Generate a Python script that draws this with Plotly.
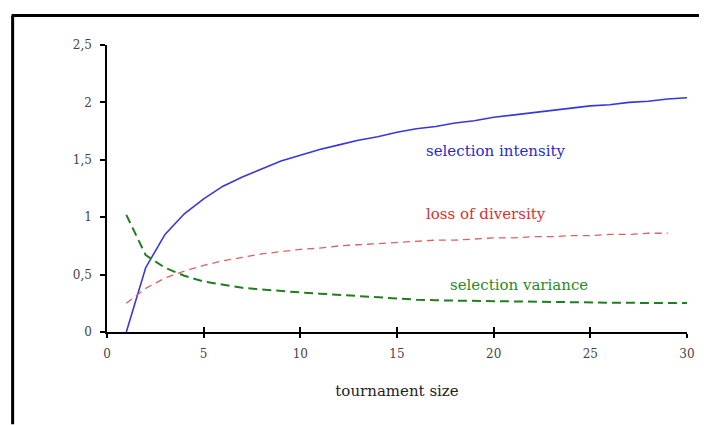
import plotly.graph_objects as go

# ---- data ----
size_intensity = list(range(1, 31))
selection_intensity = [0.00, 0.56, 0.85, 1.03, 1.16, 1.27, 1.35, 1.42, 1.49, 1.54,
                       1.59, 1.63, 1.67, 1.70, 1.74, 1.77, 1.79, 1.82, 1.84, 1.87,
                       1.89, 1.91, 1.93, 1.95, 1.97, 1.98, 2.00, 2.01, 2.03, 2.04]

size_diversity = list(range(1, 30))
loss_of_diversity = [0.25, 0.38, 0.47, 0.53, 0.58, 0.62, 0.65, 0.68, 0.70, 0.72,
                     0.73, 0.75, 0.76, 0.77, 0.78, 0.79, 0.80, 0.80, 0.81, 0.82,
                     0.82, 0.83, 0.83, 0.84, 0.84, 0.85, 0.85, 0.86, 0.86]

size_variance = list(range(1, 31))
selection_variance = [1.02, 0.67, 0.56, 0.49, 0.44, 0.41, 0.385, 0.37, 0.355, 0.345,
                      0.334, 0.323, 0.311, 0.300, 0.288, 0.282, 0.276, 0.273, 0.272, 0.268,
                      0.265, 0.261, 0.259, 0.258, 0.256, 0.255, 0.254, 0.253, 0.253, 0.252]

x_ticks = [0, 5, 10, 15, 20, 25, 30]
y_ticks = [0, 0.5, 1, 1.5, 2, 2.5]

labels = ["selection intensity", "loss of diversity", "selection variance"]
colors = ["#3838d8", "#e06060", "#1f7f1f"]

OFF = 8  # page body margin
W, H = 707 - OFF, 425 - OFF
ML, MT = 106.5 - OFF, 44.5 - OFF
PW, PH = 580.8, 288
MR, MB = W - ML - PW, H - MT - PH

fig = go.Figure()
fig.add_trace(go.Scatter(x=size_intensity, y=selection_intensity, mode="lines",
                         line=dict(color=colors[0], width=1.6), name=labels[0]))
fig.add_trace(go.Scatter(x=size_diversity, y=loss_of_diversity, mode="lines",
                         line=dict(color=colors[1], width=1.3, dash="7px,5px"), name=labels[1]))
fig.add_trace(go.Scatter(x=size_variance, y=selection_variance, mode="lines",
                         line=dict(color=colors[2], width=2.0, dash="9px,5px"), name=labels[2]))
# helper axis for ticks crossing the x axis
fig.add_trace(go.Scatter(x=[0, 30], y=[0, 0], mode="lines", line=dict(width=0),
                         xaxis="x2", yaxis="y", showlegend=False, hoverinfo="skip"))

serif = "DejaVu Serif, serif"
ann_font = 15
fig.add_annotation(x=20.1, y=1.58, text=labels[0], showarrow=False,
                   font=dict(family=serif, size=ann_font, color="#2a2ac8"))
fig.add_annotation(x=19.6, y=1.03, text=labels[1], showarrow=False,
                   font=dict(family=serif, size=ann_font, color="#d83030"))
fig.add_annotation(x=21.3, y=0.41, text=labels[2], showarrow=False,
                   font=dict(family=serif, size=ann_font, color="#2a8a2a"))

def px_x(p):
    return (p - OFF - ML) / PW

def px_y(p):
    return (H - MB - (p - OFF)) / PH

fig.add_shape(type="line", xref="paper", yref="paper",
              x0=px_x(11), x1=px_x(707), y0=px_y(15), y1=px_y(15),
              line=dict(color="black", width=3))
fig.add_shape(type="line", xref="paper", yref="paper",
              x0=px_x(12), x1=px_x(12), y0=px_y(15), y1=px_y(425),
              line=dict(color="black", width=3))

fig.update_layout(
    width=W, height=H,
    margin=dict(l=ML, r=MR, t=MT, b=MB),
    paper_bgcolor="white", plot_bgcolor="white",
    showlegend=False,
    separators=", ",
    font=dict(family=serif, color="#333333"),
    xaxis=dict(range=[0, 30], tickvals=x_ticks, ticks="outside", ticklen=4, tickwidth=1.5,
               tickcolor="black", showline=True, linecolor="black", linewidth=1.5,
               showgrid=False, zeroline=False, ticklabelstandoff=6,
               tickfont=dict(size=12, color="#444444"),
               title=dict(text="tournament size", font=dict(size=15, color="#222222"),
                          standoff=25)),
    xaxis2=dict(range=[0, 30], tickvals=x_ticks, ticks="inside", ticklen=5, tickwidth=1.5,
                tickcolor="black", overlaying="x", side="bottom", anchor="y",
                showticklabels=False, showgrid=False, zeroline=False, showline=False),
    yaxis=dict(range=[0, 2.5], tickvals=y_ticks, ticks="outside", ticklen=5, tickwidth=1.5,
               tickcolor="black", showline=True, linecolor="black", linewidth=1.5,
               showgrid=False, zeroline=False, ticklabelstandoff=6,
               tickfont=dict(size=12, color="#444444")),
)

fig.write_html("out.html")
